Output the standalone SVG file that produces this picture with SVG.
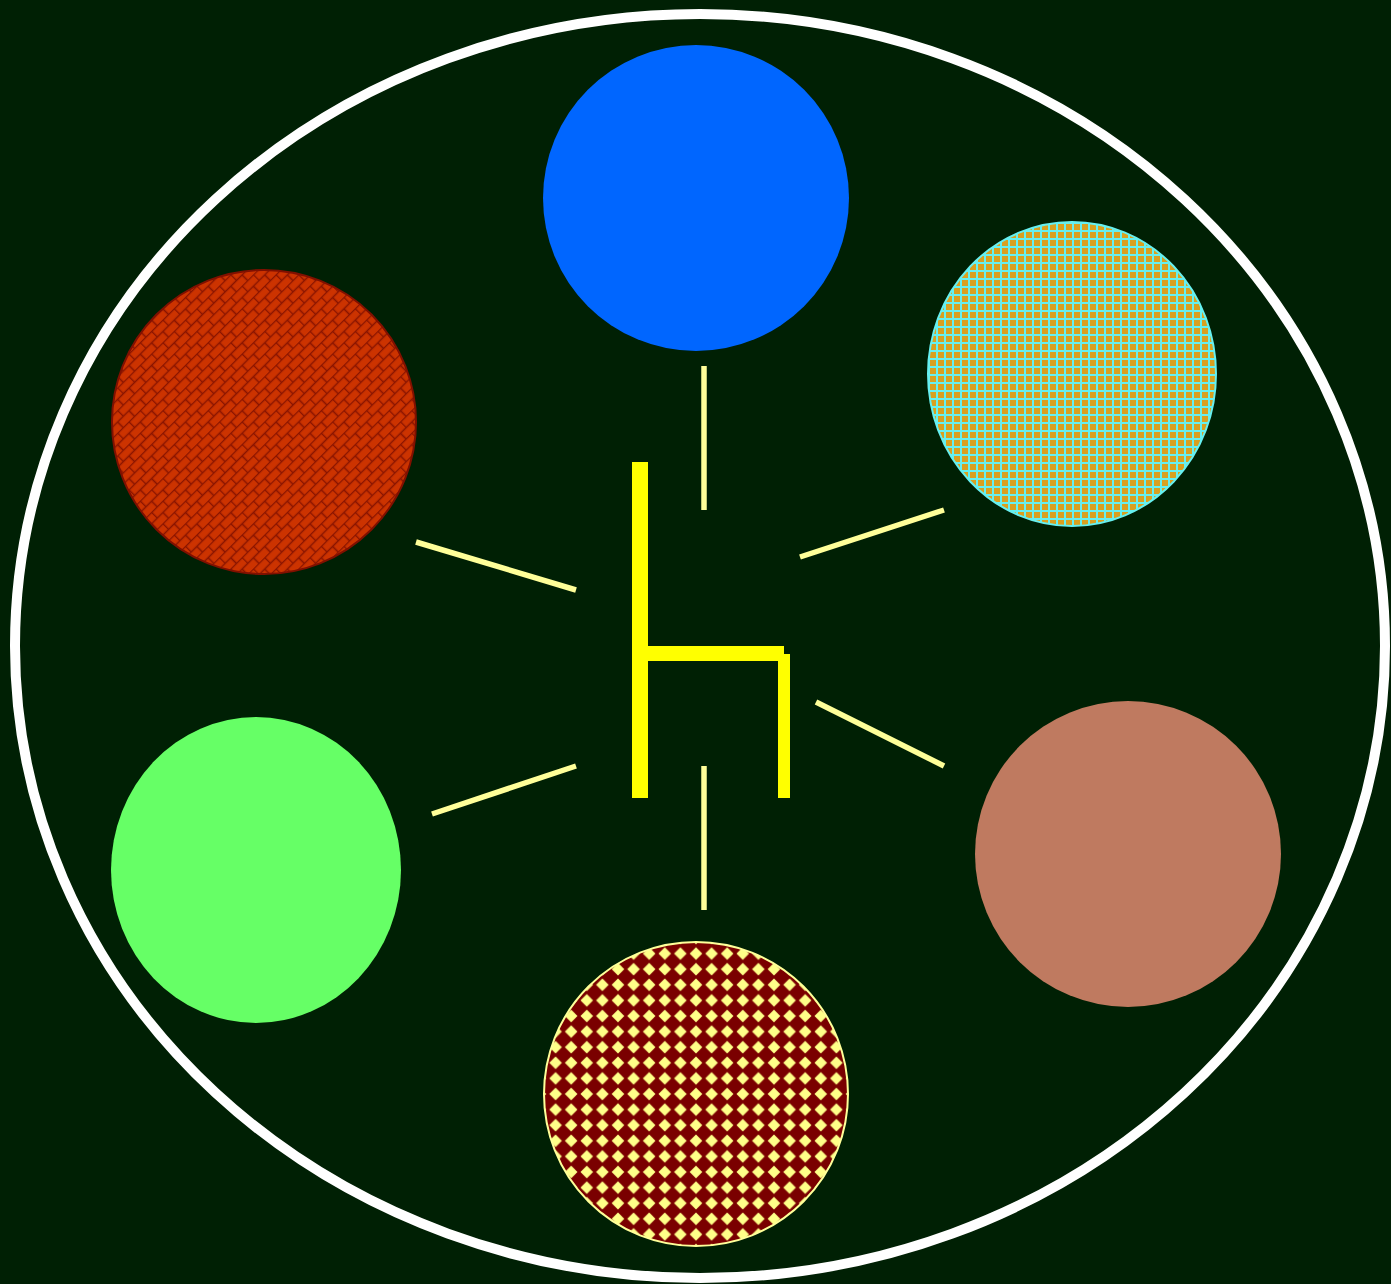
<svg xmlns="http://www.w3.org/2000/svg" width="1391" height="1284" viewBox="0 0 1391 1284">
<style>
.conn{stroke:#ffff99;stroke-width:5.5;fill:none}
.bar{fill:#ffff00}
</style>
<defs>
<pattern id="brick" width="16" height="16" patternUnits="userSpaceOnUse" patternTransform="translate(264 422) rotate(-45)">
<rect width="16" height="16" fill="#cc3300"/>
<path d="M0 0.5H16M0 8.5H16M0.5 0V8M8.5 8V16" stroke="#8a1400" stroke-width="1.6" fill="none"/>
</pattern>
<pattern id="grid" width="8" height="8" patternUnits="userSpaceOnUse" x="1072" y="374">
<rect width="8" height="8" fill="#d9a020"/>
<path d="M1 0V8M0 1H8" stroke="#66f0f0" stroke-width="2" fill="none"/>
</pattern>
<pattern id="check" width="15.6" height="15.6" patternUnits="userSpaceOnUse" x="688.2" y="1086.2">
<rect width="15.6" height="15.6" fill="#7a0000"/>
<path d="M7.8 1.5L14.1 7.8L7.8 14.1L1.5 7.8Z" fill="#ffff88"/>
</pattern>
</defs>
<rect width="1391" height="1284" fill="#002004"/>
<ellipse id="boundary" cx="700" cy="646" rx="685" ry="632" fill="none" stroke="#ffffff" stroke-width="10"/>
<g id="node-blue"><circle cx="696" cy="198" r="153" fill="#0066ff"/></g>
<g id="node-brick"><circle cx="264" cy="422" r="152" fill="url(#brick)" stroke="#801000" stroke-width="2"/></g>
<g id="node-grid"><ellipse cx="1072" cy="374" rx="144" ry="152" fill="url(#grid)" stroke="#66f0f0" stroke-width="2"/></g>
<g id="node-green"><ellipse cx="256" cy="870" rx="145" ry="153" fill="#66ff66"/></g>
<g id="node-brown"><circle cx="1128" cy="854" r="153" fill="#bf7a60"/></g>
<g id="node-check"><circle cx="696" cy="1094" r="152" fill="url(#check)" stroke="#ffff99" stroke-width="2"/></g>
<g id="center-symbol">
<rect class="bar" x="632" y="462" width="16" height="336"/>
<rect class="bar" x="648" y="646" width="136" height="15"/>
<rect class="bar" x="778" y="654" width="12" height="144"/>
</g>
<g id="connectors">
<line class="conn" x1="704" y1="366" x2="704" y2="510"/>
<line class="conn" x1="704" y1="766" x2="704" y2="910"/>
<line class="conn" x1="416" y1="542" x2="576" y2="590"/>
<line class="conn" x1="432" y1="814" x2="576" y2="766"/>
<line class="conn" x1="800" y1="557" x2="944" y2="510"/>
<line class="conn" x1="816" y1="702" x2="944" y2="766"/>
</g>
</svg>
